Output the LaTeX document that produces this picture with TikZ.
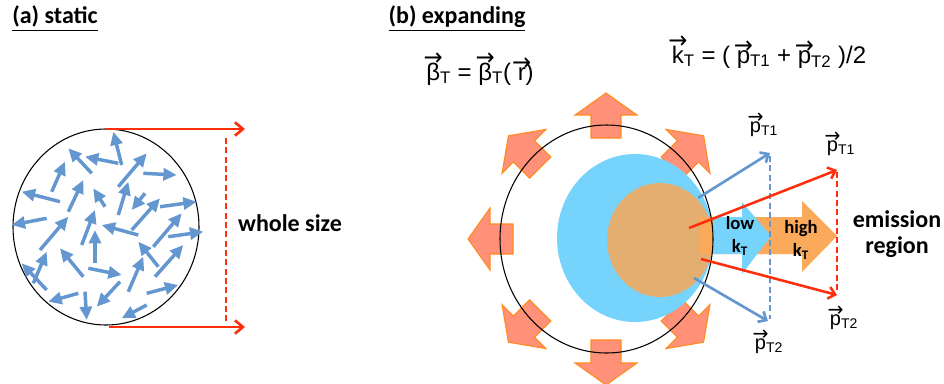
\documentclass[tikz,border=0pt]{standalone}
\usepackage{amsmath}
\usepackage{graphicx}
\usepackage{fontspec}
\setmainfont{Liberation Sans}
\newfontfamily\calibri{Carlito}
\newfontfamily\arrowfont{DejaVu Sans}
\usetikzlibrary{arrows.meta}

\definecolor{partblue}{RGB}{100,150,208}
\definecolor{redline}{RGB}{255,45,10}
\definecolor{skyfill}{RGB}{118,212,252}
\definecolor{coreorange}{RGB}{228,174,112}
\definecolor{flowfill}{RGB}{255,145,120}
\definecolor{flowedge}{RGB}{255,140,30}
\definecolor{kfill}{RGB}{250,170,90}

% letter with a small arrow on top, arrow not taking any width
\newcommand{\vecsym}[1]{\setbox0=\hbox{#1}\leavevmode\rlap{\hbox to \wd0{\hss\raisebox{\dimexpr\ht0-0.12em\relax}[0pt][0pt]{\arrowfont\scalebox{0.95}[1]{→}}\hss}}\box0}

\tikzset{
  particle/.style={partblue, line width=2.6pt, -{Triangle[length=10pt,width=9pt]}},
  sizearrow/.style={redline, line width=2pt, -{Straight Barb[length=6pt,width=10pt]}},
  reddash/.style={redline, line width=1.7pt, dash pattern=on 4.5pt off 2.5pt},
  bluedash/.style={partblue, line width=1.8pt, dash pattern=on 4.5pt off 2.5pt},
  pblue/.style={partblue, line width=2pt, -{Straight Barb[length=5pt,width=9pt]}},
  pred/.style={redline, line width=1.9pt, -{Straight Barb[length=5pt,width=9pt]}},
  flowarrow/.style={fill=flowfill, draw=flowedge, line width=0.8pt},
  boldlabel/.style={font=\calibri\bfseries\fontsize{18}{19.5}\selectfont, inner sep=0pt, align=center},
  klabel/.style={font=\calibri\bfseries\fontsize{14}{17}\selectfont, inner sep=0pt, align=center},
  formula/.style={font=\fontsize{18}{20}\selectfont, inner sep=0pt},
  plabel/.style={font=\fontsize{15}{16}\selectfont, inner sep=0pt}
}

\begin{document}
\begin{tikzpicture}[x=0.75pt,y=0.75pt,yscale=-1,xscale=1]
\useasboundingbox (0,0) rectangle (944,383);

% (a) static source
\draw[black, line width=0.8pt] (106,227) ellipse (93 and 98);
\foreach \xa/\ya/\xb/\yb in {
  121.7/165/113.3/131.7, 118.3/163.3/85/156.7, 91.7/173.3/68.3/148.3,
  51.7/191.7/65/161.7, 60/201.7/21.7/191.7, 118.3/186.7/146.7/153.3,
  143.3/173.3/176.7/175, 68.3/211.7/83.3/180, 105/206.7/93.3/188.3,
  118.3/215/128.3/181.7, 145/193.3/131.7/210, 131.7/230/160/198.3,
  160/206.7/196.7/201.7, 46.7/218.3/11.7/225, 40/250/68.3/216.7,
  81.7/245/95/210, 138.3/235/101.7/225, 95/263.3/95/230,
  153.3/246.7/181.7/213.3, 168.3/236.7/203.3/231.7, 33.3/283.3/46.7/251.7,
  46.7/290/21.7/263.3, 83.3/276.7/60/248.3, 88.3/268.3/121.7/275,
  158.3/266.7/138.3/241.7, 128.3/291.7/143.3/256.7, 155/276.7/183.3/245,
  146.7/293.3/178.3/285, 78.3/293.3/48.3/301.7, 85/291.7/86.7/320,
  120/281.7/96.7/306.7, 146.7/305/121.7/318.3}
  \draw[particle] (\xa,\ya) -- (\xb,\yb);

% whole size
\coordinate (topL) at (106,129);
\coordinate (topR) at (245,129);
\coordinate (botL) at (109,327);
\coordinate (botR) at (245,327);
\draw[sizearrow] (topL) -- (topR);
\draw[sizearrow] (botL) -- (botR);
\draw[reddash] (226,138) -- (226,323);
\node[boldlabel] (whole) at (290,223) {whole size};

% (b) expanding source
\foreach \a in {45,90,135,180,225,270,315}
  \draw[flowarrow, shift={({606+93*cos(\a)},{239-101*sin(\a)})}, rotate=-\a]
    (0,-15) -- (23,-15) -- (23,-31) -- (45,0) -- (23,31) -- (23,15) -- (0,15) -- cycle;
\fill[skyfill] (635,238) ellipse (78 and 84);
\fill[coreorange] (660,240) ellipse (53 and 57);
% high / low kT arrows
\fill[kfill] (700,217) -- (802,217) -- (802,201) -- (837,236) -- (802,272) -- (802,254) -- (700,254) -- cycle;
\fill[skyfill] (713,217) -- (742,217) -- (742,202) -- (771,236) -- (742,274) -- (742,254) -- (713,254) -- cycle;
\draw[black, line width=0.8pt] (606.5,239) ellipse (106.5 and 114);

% pair momenta
\coordinate (lowA) at (698,198);
\coordinate (lowB) at (694,278);
\coordinate (lowP1) at (770,153);
\coordinate (lowP2) at (768,321);
\coordinate (highA) at (689,228);
\coordinate (highB) at (701,259);
\coordinate (highP1) at (837,170);
\coordinate (highP2) at (837,295);
\draw[bluedash] (770,156) -- (770,319);
\draw[pblue] (lowA) -- (lowP1);
\draw[pblue] (lowB) -- (lowP2);
\draw[reddash] (837,172) -- (837,293);
\draw[pred] (highA) -- (highP1);
\draw[pred] (highB) -- (highP2);

% Text Node
\node[boldlabel] (titleA) at (55,19) {\underline{(a) static}};
\node[boldlabel] (titleB) at (457,19) {\underline{(b) expanding}};
\node[formula] (beta) at (480,74) {\vecsym{β}$_\text{T}$ = \vecsym{β}$_\text{T}$( \vecsym{r})};
\node[formula] (kt) at (769,57) {\vecsym{k}$_\text{T}$ = ( \vecsym{p}$_\text{T1}$ + \vecsym{p}$_\text{T2}$ )/2};
\node[plabel] (lp1) at (764,129) {\vecsym{p}$_\text{T1}$};
\node[plabel] (lp2) at (769,346) {\vecsym{p}$_\text{T2}$};
\node[plabel] (hp1) at (841,148) {\vecsym{p}$_\text{T1}$};
\node[plabel] (hp2) at (844,322) {\vecsym{p}$_\text{T2}$};
\node[klabel] (lowtxt) at (740,236) {low\\k$_\text{T}$};
\node[klabel] (hightxt) at (801,240) {high\\k$_\text{T}$};
\node[boldlabel] (emis) at (897,234) {emission\\region};

\end{tikzpicture}
\end{document}
